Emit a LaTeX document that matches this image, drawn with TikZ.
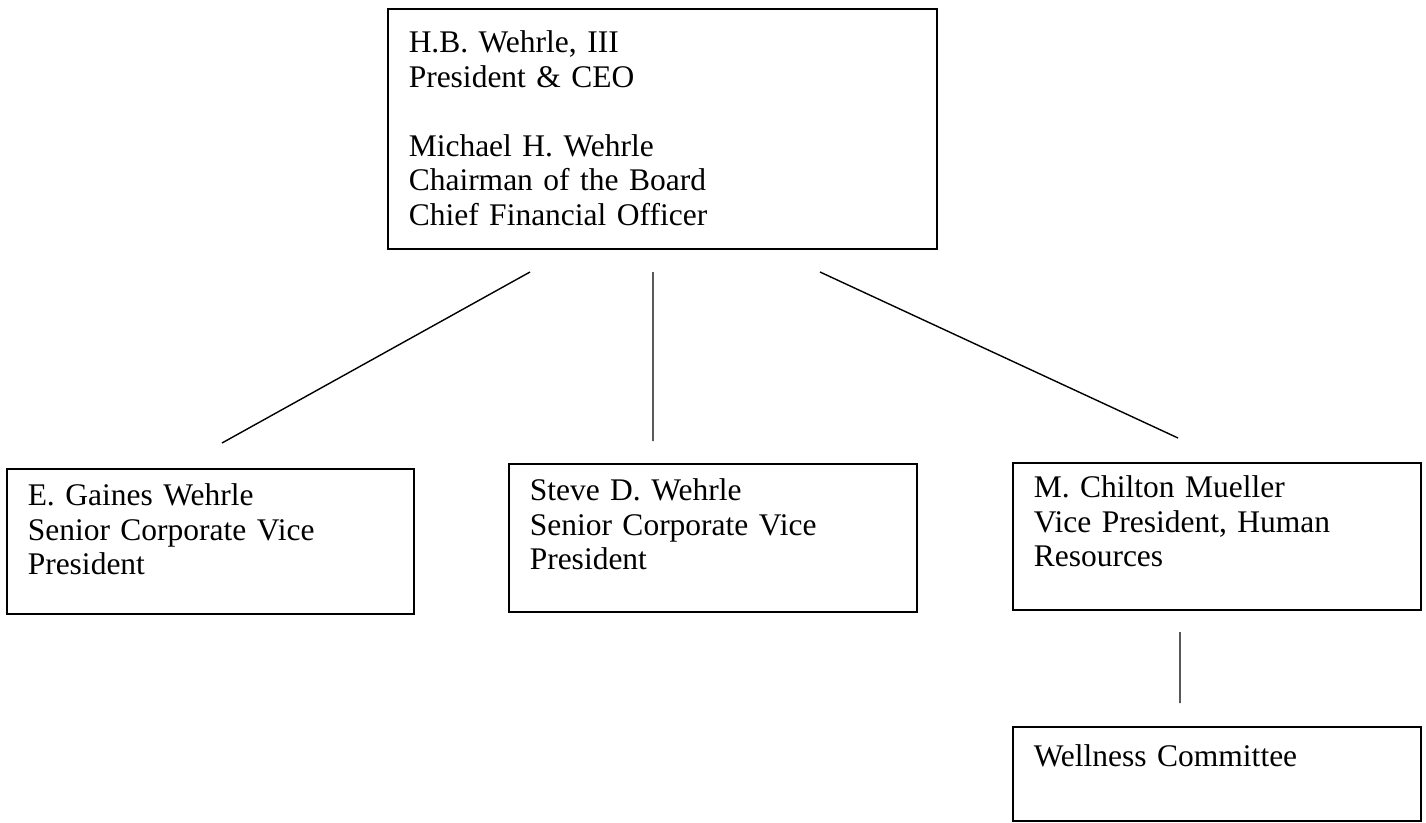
\documentclass[tikz,border=0pt]{standalone}
\usepackage{fontspec}
\setmainfont{Liberation Serif}
\usetikzlibrary{positioning}
\tikzset{x=1pt, y=-1pt, % one unit is one pixel of the page, y runs down
every node/.style={font=\fontsize{31.5}{34.5}\selectfont}, % text size of all boxes
orgbox/.style={draw, line width=1.5pt, anchor=north west, align=left,
  inner xsep=21pt, inner ysep=15pt, text height=22pt}, % sets the properties for each box
link/.style={line width=1.4pt}, % plain lines between the boxes
}
\begin{document}
\begin{tikzpicture}
\useasboundingbox (0,0) rectangle (1426,822);
\node[orgbox, inner ysep=22pt, text width=507pt, text depth=174pt] (ceo) at (387,8)
  {H.B. Wehrle, III\\ President \& CEO\\[34.5pt] Michael H. Wehrle\\ Chairman of the Board\\ Chief Financial Officer};
\node[orgbox, text width=365pt, text depth=93pt] (gaines) at (6,468)
  {E. Gaines Wehrle\\ Senior Corporate Vice\\ President};
\node[orgbox, text width=366pt, text depth=96pt] (steve) at (508,463)
  {Steve D. Wehrle\\ Senior Corporate Vice\\ President};
\node[orgbox, inner ysep=13pt, text width=366pt, text depth=99pt] (chilton) at (1012,462)
  {M. Chilton Mueller\\ Vice President, Human\\ Resources};
\node[orgbox, inner ysep=18pt, text width=366pt, text depth=36pt] (wellness) at (1012,726)
  {Wellness Committee};

% free ends of the lines
\coordinate (ceo-l) at (530,272);
\coordinate (ceo-m) at (653,272);
\coordinate (ceo-r) at (820,272);
\coordinate (gaines-t) at (222,443);
\coordinate (steve-t) at (653,441);
\coordinate (chilton-t) at (1178,438);
\coordinate (chilton-b) at (1180,632);
\coordinate (wellness-t) at (1180,703);

\draw[link]
(ceo-l) -- (gaines-t)
(ceo-m) -- (steve-t)
(ceo-r) -- (chilton-t)
(chilton-b) -- (wellness-t);
\end{tikzpicture}
\end{document}
